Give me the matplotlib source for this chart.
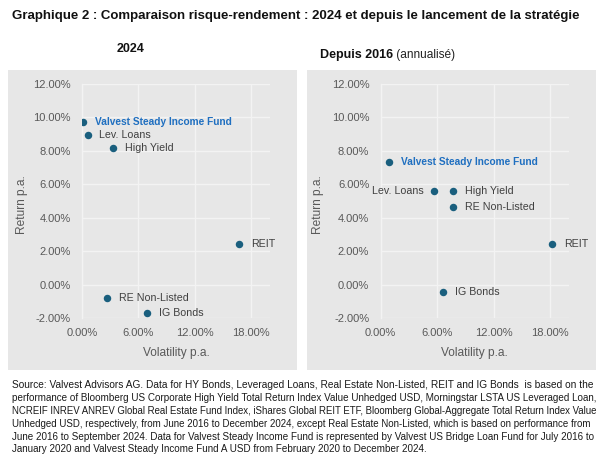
import matplotlib
matplotlib.use("Agg")
import matplotlib.pyplot as plt
from matplotlib.patches import Rectangle
from matplotlib.ticker import FuncFormatter

# ---------------- data ----------------
labels = ["Valvest Steady Income Fund", "Lev. Loans", "High Yield", "REIT",
          "RE Non-Listed", "IG Bonds"]
vol_2024 = [0.15, 0.60, 3.35, 16.75, 2.65, 6.90]
ret_2024 = [9.70, 8.93, 8.20, 2.40, -0.82, -1.68]
vol_since = [0.85, 5.70, 7.65, 18.20, 7.65, 6.60]
ret_since = [7.36, 5.62, 5.62, 2.42, 4.62, -0.45]
side_2024 = ["r", "r", "r", "r", "r", "r"]
side_since = ["r", "l", "r", "r", "r", "r"]

title = "Graphique 2 : Comparaison risque-rendement : 2024 et depuis le lancement de la stratégie"
sub_left = "2024"
sub_right_bold = "Depuis 2016"
sub_right_reg = " (annualisé)"
x_ticks = [0, 6, 12, 18]
y_ticks = [-2, 0, 2, 4, 6, 8, 10, 12]
note_lines = [
    "Source: Valvest Advisors AG. Data for HY Bonds, Leveraged Loans, Real Estate Non-Listed, REIT and IG Bonds  is based on the",
    "performance of Bloomberg US Corporate High Yield Total Return Index Value Unhedged USD, Morningstar LSTA US Leveraged Loan,",
    "NCREIF INREV ANREV Global Real Estate Fund Index, iShares Global REIT ETF, Bloomberg Global-Aggregate Total Return Index Value",
    "Unhedged USD, respectively, from June 2016 to December 2024, except Real Estate Non-Listed, which is based on performance from",
    "June 2016 to September 2024. Data for Valvest Steady Income Fund is represented by Valvest US Bridge Loan Fund for July 2016 to",
    "January 2020 and Valvest Steady Income Fund A USD from February 2020 to December 2024.",
]

# ---------------- style ----------------
W, H = 605, 459
FONT = "Liberation Sans"
plt.rcParams["font.family"] = [FONT, "DejaVu Sans"]
PANEL = "#e7e7e7"
GRID = "#f3f3f3"
MARK = "#1a5f7e"
HILITE = "#1f6fc0"
TXT = "#404040"
TICK = "#595959"

fig = plt.figure(figsize=(W / 100, H / 100), dpi=100)
fig.patch.set_facecolor("white")


def fx(px):
    return px / W


def fy(py):
    return 1 - py / H


# gray panels
for x0, x1 in [(8, 297), (307, 596)]:
    fig.patches.append(Rectangle((fx(x0), fy(370)), fx(x1 - x0), (370 - 70) / H,
                                 transform=fig.transFigure, facecolor=PANEL,
                                 edgecolor="none", zorder=-5))

axes_px = [(82, 270), (380.7, 569)]
top_px, bot_px = 84, 318


def pct(v, pos):
    return f"{v:.2f}%"


def make_ax(x0, x1, vols, rets, sides):
    ax = fig.add_axes([fx(x0), fy(bot_px), fx(x1 - x0), (bot_px - top_px) / H])
    ax.set_zorder(2)
    ax.set_facecolor("none")
    ax.set_xlim(0, 20)
    ax.set_ylim(-2, 12)
    ax.set_xticks(x_ticks)
    ax.set_yticks(y_ticks)
    ax.xaxis.set_major_formatter(FuncFormatter(pct))
    ax.yaxis.set_major_formatter(FuncFormatter(pct))
    ax.grid(True, color=GRID, linewidth=1.0)
    ax.set_axisbelow(True)
    for s in ["top", "right", "bottom"]:
        ax.spines[s].set_visible(False)
    ax.spines["left"].set_color(GRID)
    ax.spines["left"].set_linewidth(1.0)
    ax.tick_params(length=0, labelsize=8.0, labelcolor=TICK)
    ax.tick_params(axis="y", pad=8.2)
    ax.tick_params(axis="x", pad=7.2)
    ax.scatter(vols, rets, s=29, color=MARK, zorder=3, linewidths=0)
    for i, (v, r, lab, sd) in enumerate(zip(vols, rets, labels, sides)):
        bold = i == 0
        ha = "left" if sd == "r" else "right"
        off = 8.5 if sd == "r" else -7.5
        ax.annotate(lab, (v, r), xytext=(off, 0), textcoords="offset points",
                    ha=ha, va="center", fontsize=7.3 if bold else 7.7,
                    color=HILITE if bold else TXT,
                    fontweight="bold" if bold else "normal")
    return ax


ax1 = make_ax(*axes_px[0], vol_2024, ret_2024, side_2024)
ax2 = make_ax(*axes_px[1], vol_since, ret_since, side_since)

# axis labels
for (x0, x1) in axes_px:
    fig.text(fx((x0 + x1) / 2), fy(353), "Volatility p.a.", ha="center",
             va="center", fontsize=8.6, color=TICK)
fig.text(fx(22), fy(205), "Return p.a.", rotation=90, ha="center", va="center",
         fontsize=8.6, color=TICK)
fig.text(fx(318), fy(205), "Return p.a.", rotation=90, ha="center", va="center",
         fontsize=8.6, color=TICK)

# titles
fig.canvas.draw()
renderer = fig.canvas.get_renderer()

t = fig.text(fx(12), fy(19.5), title, ha="left", va="baseline",
             fontsize=8.6, fontweight="bold", color="#111111")
w = t.get_window_extent(renderer).width
t.set_fontsize(8.6 * (566 / w))

fig.text(fx(131), fy(52), sub_left, ha="center", va="baseline", fontsize=9.0,
         fontweight="bold", color="#111111")
tb = fig.text(0, fy(58), sub_right_bold, ha="left", va="baseline", fontsize=9.0,
              fontweight="bold", color="#111111")
tr = fig.text(0, fy(58), sub_right_reg, ha="left", va="baseline", fontsize=8.6,
              color="#222222")
wb = tb.get_window_extent(renderer).width
wr = tr.get_window_extent(renderer).width
start = 387.5 - (wb + wr) / 2
tb.set_x(fx(start))
tr.set_x(fx(start + wb))

# footnote: each full line sized to span the text block (justified look)
x_left, x_right = 12, 595
sizes = []
for i, line in enumerate(note_lines):
    yb = 388 + 12.9 * i
    tt = fig.text(fx(x_left), fy(yb), line, ha="left", va="baseline",
                  fontsize=7.0, color="#1a1a1a")
    if i < len(note_lines) - 1:
        nat = tt.get_window_extent(renderer).width
        fs = 7.0 * (x_right - x_left) / nat
        sizes.append(fs)
        tt.set_fontsize(fs)
    else:
        tt.set_fontsize(sum(sizes) / len(sizes))

fig.savefig("out.png", dpi=100, facecolor="white")
